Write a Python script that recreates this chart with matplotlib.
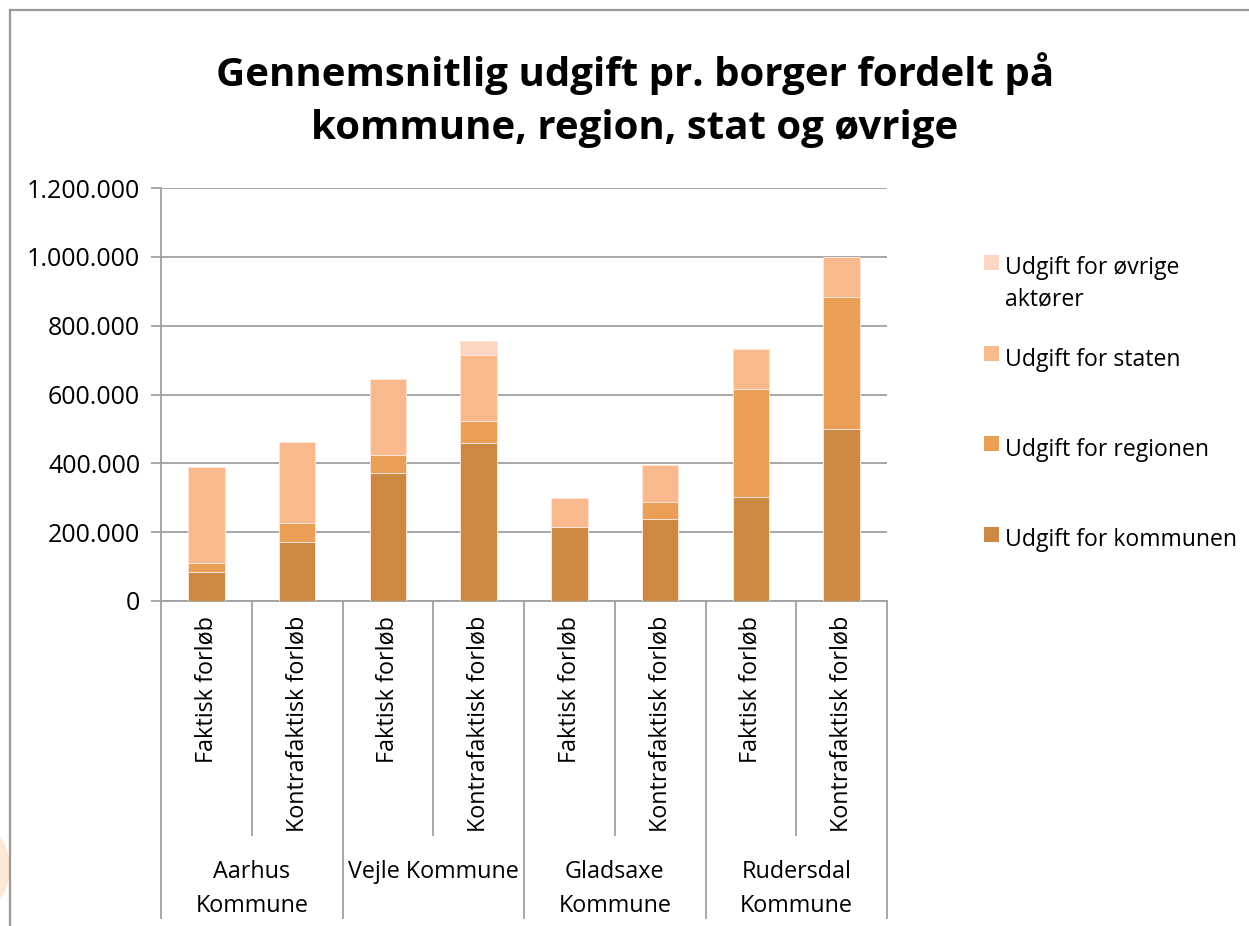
import matplotlib
matplotlib.use("Agg")
import matplotlib.pyplot as plt
import matplotlib.transforms as mtransforms
from matplotlib.patches import Rectangle, Ellipse
from matplotlib.lines import Line2D
import numpy as np

# ---- data ----
groups = ["Aarhus\nKommune", "Vejle Kommune", "Gladsaxe\nKommune", "Rudersdal\nKommune"]
scenarios = ["Faktisk forløb", "Kontrafaktisk forløb"]
series_names = ["Udgift for kommunen", "Udgift for regionen", "Udgift for staten",
                "Udgift for øvrige\naktører"]
kommune = [85000, 171000, 371000, 460000, 214000, 239000, 301000, 499000]
regionen = [26000, 57000, 54000, 64000, 2000, 50000, 315000, 383000]
staten = [279000, 234000, 220000, 192000, 84000, 107000, 116000, 117000]
ovrige = [0, 0, 0, 39000, 0, 0, 0, 0]
yticks = [0, 200000, 400000, 600000, 800000, 1000000, 1200000]
colors = ["#CD8843", "#EB9E55", "#FAB98C", "#FDD5C3"]

plt.rcParams["font.family"] = ["Open Sans", "DejaVu Sans"]

W, H = 1249, 926
fig = plt.figure(figsize=(W / 100, H / 100), dpi=100)
fig.patch.set_facecolor("white")

# outer frame (left and top)
fig.add_artist(Line2D([10 / W, 10 / W], [0, 1 - 10 / H], transform=fig.transFigure,
                      color="#9a9a9a", lw=1.6))
fig.add_artist(Line2D([10 / W, 1], [1 - 10 / H, 1 - 10 / H], transform=fig.transFigure,
                      color="#9a9a9a", lw=1.6))
# faint orange blob at left edge
fig.add_artist(Ellipse((-10 / W, 1 - 868 / H), 40 / W, 70 / H, transform=fig.transFigure,
                       color="#FDE8D6", lw=0))

ax_l, ax_r, ax_t, ax_b = 161, 887, 188, 601
ax = fig.add_axes([ax_l / W, 1 - ax_b / H, (ax_r - ax_l) / W, (ax_b - ax_t) / H])

n = len(kommune)
x = np.arange(n)
bw = 0.4
stack = [kommune, regionen, staten, ovrige]
bottom = np.zeros(n)
for vals, c in zip(stack, colors):
    v = np.array(vals, dtype=float)
    ax.bar(x, v, bw, bottom=bottom, color=c, edgecolor="#FCE6D8", linewidth=0.7, zorder=3)
    bottom += v

ax.set_xlim(-0.5, n - 0.5)
ax.set_ylim(0, 1200000)
ax.set_yticks(yticks)
ax.set_yticklabels([f"{t:,}".replace(",", ".") for t in yticks], fontsize=18)
ax.yaxis.grid(True, color="#a0a0a0", lw=1.3, zorder=0)
ax.set_axisbelow(True)
ax.tick_params(axis="y", length=7, width=1.3, color="#a0a0a0", pad=8)
ax.set_xticks([])
for s in ["top", "right"]:
    ax.spines[s].set_visible(False)
for s in ["left", "bottom"]:
    ax.spines[s].set_color("#a0a0a0")
    ax.spines[s].set_linewidth(1.3)

# category separators
trans = mtransforms.blended_transform_factory(ax.transData, ax.transAxes)
h_ax = ax_b - ax_t
short_y = -(835 - ax_b) / h_ax
long_y = -(918 - ax_b) / h_ax
for i in range(n + 1):
    xb = i - 0.5
    yend = long_y if i % 2 == 0 else short_y
    ax.add_line(Line2D([xb, xb], [0, yend], transform=trans, color="#a0a0a0",
                       lw=1.3, clip_on=False))

# scenario labels
for i in range(n):
    ax.text(x[i], -(616 - ax_b) / h_ax, scenarios[i % 2], transform=trans, rotation=90,
            ha="center", va="top", fontsize=16.8)

# group labels
for g, name in enumerate(groups):
    ax.text(2 * g + 0.5, -(860 - ax_b) / h_ax, name, transform=trans, ha="center",
            va="top", fontsize=16.8, linespacing=1.55)

# title
fig.text(635 / W, 1 - 100 / H, "Gennemsnitlig udgift pr. borger fordelt på\nkommune, region, stat og øvrige",
         ha="center", va="center", fontsize=29, fontweight="bold", linespacing=1.45)

# legend (manual, reversed order)
leg_centers = [262.5, 353.5, 443.5, 534]
for idx, yc in zip(range(len(series_names) - 1, -1, -1), leg_centers):
    fig.add_artist(Rectangle((984 / W, 1 - (yc + 7.5) / H), 15 / W, 15 / H,
                             transform=fig.transFigure, color=colors[idx], lw=0))
    fig.text(1005 / W, 1 - (yc - 6) / H, series_names[idx], ha="left", va="top",
             fontsize=16.6, linespacing=1.4)

fig.savefig("out.png", dpi=100)
